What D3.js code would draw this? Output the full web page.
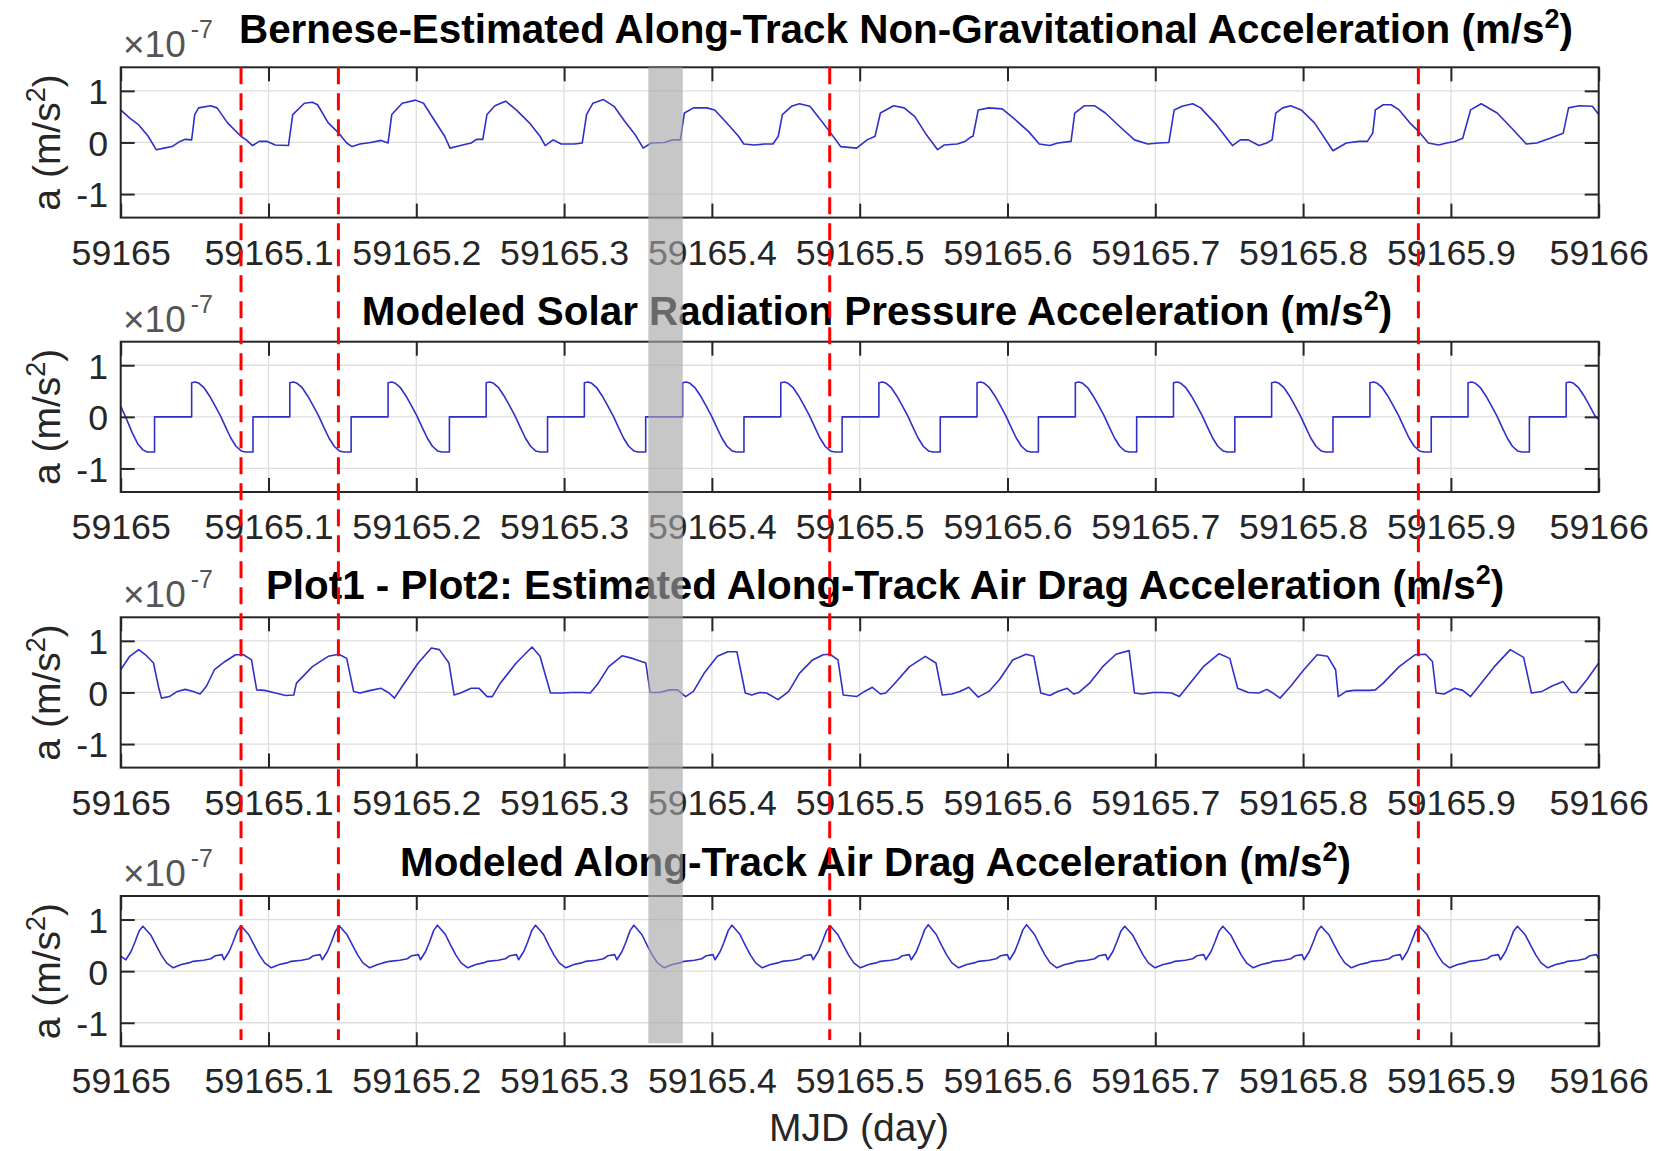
<!DOCTYPE html>
<html>
<head>
<meta charset="utf-8">
<script src="https://cdn.jsdelivr.net/npm/d3@7"></script>
<style>
  html, body { margin: 0; padding: 0; background: #ffffff; }
  svg { display: block; }
</style>
</head>
<body>
<svg id="fig" width="1660" height="1151"></svg>
<script>
// ---- data (time = days after MJD 59165, acceleration in 1e-7 m/s^2) ----
const MJD0 = 59165;
const xTicks = [0, 0.1, 0.2, 0.3, 0.4, 0.5, 0.6, 0.7, 0.8, 0.9, 1.0];
const xTickLabels = ["59165", "59165.1", "59165.2", "59165.3", "59165.4", "59165.5",
                     "59165.6", "59165.7", "59165.8", "59165.9", "59166"];
const yTicks = [-1, 0, 1];
const yTickLabels = ["-1", "0", "1"];

const panelTitles = [
  "Bernese-Estimated Along-Track Non-Gravitational Acceleration (m/s",
  "Modeled Solar Radiation Pressure Acceleration (m/s",
  "Plot1 - Plot2: Estimated Along-Track Air Drag Acceleration (m/s",
  "Modeled Along-Track Air Drag Acceleration (m/s"
];

// epochs marked with red dashed lines, and the shaded interval
const markedEpochs = [0.0814, 0.1473, 0.4797, 0.8780];
const shadedSpan = [0.3570, 0.3803];

// Bernese-estimated along-track non-gravitational acceleration
const bernese = [
  [0,0.63],[0.0061,0.47],[0.0122,0.34],[0.0186,0.12],[0.0240,-0.14],[0.0294,-0.11],[0.0347,-0.08],[0.0401,0.02],[0.0437,0.06],[0.0480,0.05],
  [0.0501,0.54],[0.0527,0.67],[0.0609,0.71],[0.0652,0.67],[0.0723,0.38],[0.0813,0.12],[0.0849,0.05],[0.0892,-0.06],[0.0938,0.02],[0.0992,0.02],[0.1046,-0.05],[0.1135,-0.06],
  [0.1164,0.54],[0.1243,0.76],[0.1297,0.78],[0.1332,0.73],[0.1404,0.38],[0.1476,0.18],[0.1529,-0.01],[0.1565,-0.08],[0.1619,-0.03],[0.1691,0],[0.1762,0.04],[0.1809,-0.01],
  [0.1834,0.54],[0.1905,0.76],[0.1995,0.82],[0.2049,0.76],[0.2120,0.44],[0.2192,0.12],[0.2228,-0.11],[0.2299,-0.06],[0.2371,-0.01],[0.2407,0.06],[0.2450,0.06],
  [0.2478,0.54],[0.2532,0.71],[0.2604,0.80],[0.2676,0.63],[0.2765,0.38],[0.2837,0.12],[0.2872,-0.06],[0.2926,0.05],[0.2980,-0.03],[0.3070,-0.03],[0.3123,-0.01],
  [0.3152,0.54],[0.3195,0.76],[0.3266,0.83],[0.3338,0.70],[0.3410,0.41],[0.3481,0.15],[0.3535,-0.11],[0.3589,-0.01],[0.3678,0],[0.3732,0.05],[0.3786,0.05],
  [0.3814,0.57],[0.3875,0.67],[0.3965,0.67],[0.4019,0.63],[0.4090,0.41],[0.4180,0.12],[0.4216,-0.03],[0.4287,-0.05],[0.4359,-0.03],[0.4413,-0.03],[0.4449,0.12],
  [0.4477,0.54],[0.4538,0.70],[0.4592,0.75],[0.4663,0.70],[0.4735,0.44],[0.4799,0.20],[0.4871,-0.08],[0.4979,-0.11],[0.5050,0.05],[0.5104,0.12],
  [0.5140,0.57],[0.5229,0.71],[0.5301,0.67],[0.5373,0.50],[0.5444,0.18],[0.5527,-0.14],[0.5570,-0.05],[0.5659,-0.03],[0.5713,0.02],[0.5749,0.10],[0.5767,0.12],
  [0.5802,0.63],[0.5874,0.67],[0.5964,0.65],[0.6053,0.44],[0.6143,0.21],[0.6215,-0.03],[0.6286,-0.06],[0.6340,-0.01],[0.6430,0.02],
  [0.6455,0.57],[0.6519,0.71],[0.6591,0.71],[0.6662,0.57],[0.6770,0.28],[0.6859,0.05],[0.6949,-0.03],[0.7021,-0.01],[0.7092,0],
  [0.7128,0.63],[0.7181,0.70],[0.7253,0.75],[0.7307,0.67],[0.7414,0.34],[0.7522,-0.06],[0.7575,0.05],[0.7629,0.05],[0.7701,-0.06],[0.7754,-0.01],[0.7790,0.05],
  [0.7815,0.57],[0.7862,0.67],[0.7916,0.71],[0.7987,0.63],[0.8077,0.38],[0.8202,-0.16],[0.8292,-0.01],[0.8381,0.02],[0.8435,0.02],[0.8471,0.18],
  [0.8489,0.63],[0.8542,0.73],[0.8596,0.73],[0.8650,0.63],[0.8722,0.38],[0.8783,0.21],[0.8847,-0.01],[0.8918,-0.05],[0.8972,-0.01],[0.9026,0.02],[0.9080,0.08],
  [0.9133,0.63],[0.9205,0.75],[0.9313,0.57],[0.9420,0.25],[0.9510,-0.03],[0.9581,-0.01],[0.9671,0.08],[0.9760,0.18],
  [0.9796,0.67],[0.9868,0.71],[0.9957,0.70],[1.0,0.54]
];

// modeled solar radiation pressure acceleration (zero while in eclipse)
const srp = [
  [0,0.21],[0.0040,-0.05],[0.0080,-0.32],[0.0115,-0.52],[0.0150,-0.64],[0.0180,-0.68],[0.0229,-0.68],[0.0229,0],
  [0.0480,0],[0.0480,0.66],[0.0505,0.675],[0.0530,0.65],[0.0565,0.56],[0.0600,0.41],[0.0635,0.23],[0.0675,0.02],[0.0710,-0.2],[0.0745,-0.41],[0.0780,-0.57],[0.0815,-0.66],[0.0845,-0.68],[0.0895,-0.68],[0.0895,0],
  [0.1144,0],[0.1144,0.66],[0.1169,0.675],[0.1194,0.65],[0.1229,0.56],[0.1264,0.41],[0.1299,0.23],[0.1339,0.02],[0.1374,-0.2],[0.1409,-0.41],[0.1444,-0.57],[0.1479,-0.66],[0.1509,-0.68],[0.1559,-0.68],[0.1559,0],
  [0.1809,0],[0.1809,0.66],[0.1834,0.675],[0.1859,0.65],[0.1894,0.56],[0.1929,0.41],[0.1964,0.23],[0.2004,0.02],[0.2039,-0.2],[0.2074,-0.41],[0.2109,-0.57],[0.2144,-0.66],[0.2174,-0.68],[0.2224,-0.68],[0.2224,0],
  [0.2473,0],[0.2473,0.66],[0.2498,0.675],[0.2523,0.65],[0.2558,0.56],[0.2593,0.41],[0.2628,0.23],[0.2668,0.02],[0.2703,-0.2],[0.2738,-0.41],[0.2773,-0.57],[0.2808,-0.66],[0.2838,-0.68],[0.2888,-0.68],[0.2888,0],
  [0.3137,0],[0.3137,0.66],[0.3162,0.675],[0.3187,0.65],[0.3222,0.56],[0.3257,0.41],[0.3292,0.23],[0.3332,0.02],[0.3367,-0.2],[0.3402,-0.41],[0.3437,-0.57],[0.3472,-0.66],[0.3502,-0.68],[0.3552,-0.68],[0.3552,0],
  [0.3802,0],[0.3802,0.66],[0.3827,0.675],[0.3852,0.65],[0.3887,0.56],[0.3922,0.41],[0.3957,0.23],[0.3997,0.02],[0.4032,-0.2],[0.4067,-0.41],[0.4102,-0.57],[0.4137,-0.66],[0.4167,-0.68],[0.4217,-0.68],[0.4217,0],
  [0.4466,0],[0.4466,0.66],[0.4491,0.675],[0.4516,0.65],[0.4551,0.56],[0.4586,0.41],[0.4621,0.23],[0.4661,0.02],[0.4696,-0.2],[0.4731,-0.41],[0.4766,-0.57],[0.4801,-0.66],[0.4831,-0.68],[0.4881,-0.68],[0.4881,0],
  [0.5130,0],[0.5130,0.66],[0.5155,0.675],[0.5180,0.65],[0.5215,0.56],[0.5250,0.41],[0.5285,0.23],[0.5325,0.02],[0.5360,-0.2],[0.5395,-0.41],[0.5430,-0.57],[0.5465,-0.66],[0.5495,-0.68],[0.5545,-0.68],[0.5545,0],
  [0.5794,0],[0.5794,0.66],[0.5819,0.675],[0.5844,0.65],[0.5879,0.56],[0.5914,0.41],[0.5949,0.23],[0.5989,0.02],[0.6024,-0.2],[0.6059,-0.41],[0.6094,-0.57],[0.6129,-0.66],[0.6159,-0.68],[0.6209,-0.68],[0.6209,0],
  [0.6459,0],[0.6459,0.66],[0.6484,0.675],[0.6509,0.65],[0.6544,0.56],[0.6579,0.41],[0.6614,0.23],[0.6654,0.02],[0.6689,-0.2],[0.6724,-0.41],[0.6759,-0.57],[0.6794,-0.66],[0.6824,-0.68],[0.6874,-0.68],[0.6874,0],
  [0.7123,0],[0.7123,0.66],[0.7148,0.675],[0.7173,0.65],[0.7208,0.56],[0.7243,0.41],[0.7278,0.23],[0.7318,0.02],[0.7353,-0.2],[0.7388,-0.41],[0.7423,-0.57],[0.7458,-0.66],[0.7488,-0.68],[0.7538,-0.68],[0.7538,0],
  [0.7787,0],[0.7787,0.66],[0.7812,0.675],[0.7837,0.65],[0.7872,0.56],[0.7907,0.41],[0.7942,0.23],[0.7982,0.02],[0.8017,-0.2],[0.8052,-0.41],[0.8087,-0.57],[0.8122,-0.66],[0.8152,-0.68],[0.8202,-0.68],[0.8202,0],
  [0.8452,0],[0.8452,0.66],[0.8477,0.675],[0.8502,0.65],[0.8537,0.56],[0.8572,0.41],[0.8607,0.23],[0.8647,0.02],[0.8682,-0.2],[0.8717,-0.41],[0.8752,-0.57],[0.8787,-0.66],[0.8817,-0.68],[0.8867,-0.68],[0.8867,0],
  [0.9116,0],[0.9116,0.66],[0.9141,0.675],[0.9166,0.65],[0.9201,0.56],[0.9236,0.41],[0.9271,0.23],[0.9311,0.02],[0.9346,-0.2],[0.9381,-0.41],[0.9416,-0.57],[0.9451,-0.66],[0.9481,-0.68],[0.9531,-0.68],[0.9531,0],
  [0.9780,0],[0.9780,0.66],[0.9805,0.675],[0.9830,0.65],[0.9865,0.56],[0.9900,0.41],[0.9935,0.23],[0.9975,0.02],[1.0,-0.05]
];

// estimated air drag: Bernese estimate minus modeled SRP
const dragDiff = [
  [0,0.44],[0.0061,0.70],[0.0122,0.83],[0.0168,0.73],[0.0222,0.57],[0.0258,0.08],[0.0276,-0.11],[0.0330,-0.08],[0.0383,0.02],[0.0437,0.06],[0.0491,0.02],[0.0537,-0.03],
  [0.0580,0.12],[0.0634,0.44],[0.0706,0.60],[0.0777,0.73],[0.0831,0.73],[0.0885,0.63],[0.0920,0.05],[0.0974,0.04],[0.1046,-0.01],[0.1117,-0.06],[0.1171,-0.05],
  [0.1189,0.18],[0.1297,0.50],[0.1404,0.70],[0.1476,0.74],[0.1529,0.66],[0.1576,0.02],[0.1619,-0.01],[0.1691,0.04],[0.1762,0.08],[0.1816,-0.01],[0.1852,-0.11],
  [0.1905,0.12],[0.2013,0.57],[0.2102,0.86],[0.2156,0.83],[0.2221,0.57],[0.2256,-0.05],[0.2299,-0.01],[0.2371,0.08],[0.2425,0.08],[0.2479,-0.08],[0.2514,-0.08],
  [0.2568,0.18],[0.2676,0.57],[0.2783,0.88],[0.2837,0.70],[0.2908,-0.01],[0.2980,-0.01],[0.3052,0],[0.3123,0],[0.3177,-0.01],
  [0.3231,0.18],[0.3302,0.50],[0.3392,0.71],[0.3463,0.66],[0.3553,0.57],[0.3582,0],[0.3643,0],[0.3714,0.05],[0.3768,0.05],[0.3822,-0.08],[0.3875,0.02],
  [0.3947,0.37],[0.4037,0.70],[0.4108,0.79],[0.4169,0.79],[0.4226,-0.01],[0.4269,-0.05],[0.4323,0],[0.4370,-0.01],[0.4448,-0.14],[0.4520,0.02],
  [0.4592,0.37],[0.4681,0.63],[0.4753,0.73],[0.4799,0.74],[0.4853,0.63],[0.4889,-0.05],[0.4979,-0.08],[0.5032,0.02],[0.5086,0.10],[0.5140,-0.03],[0.5176,-0.01],
  [0.5229,0.15],[0.5337,0.50],[0.5444,0.70],[0.5516,0.57],[0.5559,-0.05],[0.5623,-0.03],[0.5677,0.02],[0.5738,0.10],[0.5802,-0.09],[0.5874,0.02],
  [0.5946,0.25],[0.6035,0.63],[0.6125,0.74],[0.6178,0.70],[0.6225,-0.01],[0.6286,-0.06],[0.6340,0.02],[0.6404,0.08],[0.6447,-0.03],[0.6483,0],
  [0.6555,0.18],[0.6644,0.50],[0.6734,0.74],[0.6823,0.81],[0.6859,-0.01],[0.6913,-0.03],[0.6984,0],[0.7056,0],[0.7110,-0.01],[0.7163,-0.08],
  [0.7235,0.18],[0.7325,0.50],[0.7432,0.75],[0.7504,0.66],[0.7557,0.08],[0.7629,0],[0.7701,-0.01],[0.7754,0.06],[0.7790,0],[0.7844,-0.11],
  [0.7916,0.12],[0.8005,0.44],[0.8095,0.73],[0.8166,0.70],[0.8220,0.44],[0.8238,-0.08],[0.8292,0.02],[0.8345,0.04],[0.8399,0.04],[0.8453,0.04],[0.8489,0.05],
  [0.8542,0.18],[0.8650,0.50],[0.8757,0.73],[0.8829,0.74],[0.8875,0.60],[0.8900,-0.01],[0.8954,-0.03],[0.9026,0.08],[0.9080,0.04],[0.9133,-0.08],
  [0.9205,0.18],[0.9294,0.50],[0.9402,0.83],[0.9492,0.68],[0.9545,-0.01],[0.9617,0.02],[0.9688,0.13],[0.9760,0.21],[0.9814,0],[0.9850,0],
  [0.9921,0.25],[1.0,0.57]
];

// modeled along-track air drag acceleration
const dragModel = [
  [0,0.29],
  [0.0035,0.22],[0.0070,0.38],[0.0096,0.56],[0.0125,0.78],[0.0150,0.87],[0.0204,0.70],[0.0240,0.50],[0.0275,0.31],[0.0310,0.16],[0.0355,0.065],[0.0410,0.13],[0.0460,0.16],[0.0490,0.19],[0.0560,0.21],[0.0610,0.24],[0.0640,0.30],[0.0685,0.32],
  [0.0699,0.22],[0.0734,0.38],[0.0760,0.56],[0.0789,0.78],[0.0814,0.88],[0.0868,0.70],[0.0904,0.50],[0.0939,0.31],[0.0974,0.16],[0.1019,0.065],[0.1074,0.13],[0.1124,0.16],[0.1154,0.19],[0.1224,0.21],[0.1274,0.24],[0.1304,0.30],[0.1349,0.32],
  [0.1364,0.22],[0.1399,0.38],[0.1425,0.56],[0.1454,0.78],[0.1479,0.88],[0.1533,0.70],[0.1569,0.50],[0.1604,0.31],[0.1639,0.16],[0.1684,0.065],[0.1739,0.13],[0.1774,0.16],[0.1819,0.19],[0.1889,0.21],[0.1939,0.24],[0.1969,0.30],[0.2014,0.32],
  [0.2028,0.22],[0.2063,0.38],[0.2089,0.56],[0.2118,0.79],[0.2143,0.89],[0.2197,0.71],[0.2233,0.50],[0.2268,0.31],[0.2303,0.16],[0.2348,0.065],[0.2403,0.13],[0.2453,0.16],[0.2483,0.19],[0.2553,0.21],[0.2603,0.24],[0.2633,0.30],[0.2678,0.32],
  [0.2692,0.22],[0.2727,0.38],[0.2753,0.56],[0.2782,0.79],[0.2807,0.89],[0.2861,0.71],[0.2897,0.50],[0.2932,0.31],[0.2967,0.16],[0.3012,0.065],[0.3067,0.13],[0.3117,0.16],[0.3147,0.19],[0.3217,0.21],[0.3267,0.24],[0.3297,0.30],[0.3342,0.32],
  [0.3357,0.22],[0.3392,0.38],[0.3418,0.56],[0.3447,0.79],[0.3472,0.89],[0.3526,0.71],[0.3562,0.50],[0.3597,0.31],[0.3632,0.16],[0.3677,0.065],[0.3732,0.13],[0.3782,0.16],[0.3812,0.19],[0.3882,0.21],[0.3932,0.24],[0.3962,0.30],[0.4007,0.32],
  [0.4021,0.22],[0.4056,0.38],[0.4082,0.56],[0.4111,0.79],[0.4136,0.89],[0.4190,0.71],[0.4226,0.50],[0.4261,0.31],[0.4296,0.16],[0.4341,0.065],[0.4396,0.13],[0.4446,0.16],[0.4476,0.19],[0.4546,0.21],[0.4596,0.24],[0.4626,0.30],[0.4671,0.32],
  [0.4685,0.22],[0.4720,0.38],[0.4746,0.56],[0.4775,0.78],[0.4800,0.88],[0.4854,0.70],[0.4890,0.50],[0.4925,0.31],[0.4960,0.16],[0.5005,0.065],[0.5060,0.13],[0.5110,0.16],[0.5140,0.19],[0.5210,0.21],[0.5260,0.24],[0.5290,0.30],[0.5335,0.32],
  [0.5349,0.22],[0.5384,0.38],[0.5410,0.57],[0.5439,0.80],[0.5464,0.90],[0.5518,0.71],[0.5554,0.50],[0.5589,0.31],[0.5624,0.16],[0.5669,0.065],[0.5724,0.13],[0.5774,0.16],[0.5804,0.19],[0.5874,0.21],[0.5924,0.24],[0.5954,0.30],[0.5999,0.32],
  [0.6014,0.22],[0.6049,0.38],[0.6075,0.57],[0.6104,0.80],[0.6129,0.90],[0.6183,0.71],[0.6219,0.50],[0.6254,0.31],[0.6289,0.16],[0.6334,0.065],[0.6389,0.13],[0.6439,0.16],[0.6469,0.19],[0.6539,0.21],[0.6589,0.24],[0.6619,0.30],[0.6664,0.32],
  [0.6678,0.22],[0.6713,0.38],[0.6739,0.56],[0.6768,0.78],[0.6793,0.87],[0.6847,0.70],[0.6883,0.50],[0.6918,0.31],[0.6953,0.16],[0.6998,0.065],[0.7053,0.13],[0.7103,0.16],[0.7133,0.19],[0.7203,0.21],[0.7253,0.24],[0.7283,0.30],[0.7328,0.32],
  [0.7342,0.22],[0.7377,0.38],[0.7403,0.56],[0.7432,0.78],[0.7457,0.87],[0.7511,0.70],[0.7547,0.50],[0.7582,0.31],[0.7617,0.16],[0.7662,0.065],[0.7717,0.13],[0.7767,0.16],[0.7797,0.19],[0.7867,0.21],[0.7917,0.24],[0.7947,0.30],[0.7992,0.32],
  [0.8007,0.22],[0.8042,0.38],[0.8068,0.56],[0.8097,0.78],[0.8122,0.87],[0.8176,0.70],[0.8212,0.50],[0.8247,0.31],[0.8282,0.16],[0.8327,0.065],[0.8382,0.13],[0.8432,0.16],[0.8462,0.19],[0.8532,0.21],[0.8582,0.24],[0.8612,0.30],[0.8657,0.32],
  [0.8671,0.22],[0.8706,0.38],[0.8732,0.56],[0.8761,0.78],[0.8786,0.87],[0.8840,0.70],[0.8876,0.50],[0.8911,0.31],[0.8946,0.16],[0.8991,0.065],[0.9046,0.13],[0.9096,0.16],[0.9126,0.19],[0.9196,0.21],[0.9246,0.24],[0.9276,0.30],[0.9321,0.32],
  [0.9335,0.22],[0.9370,0.38],[0.9396,0.56],[0.9425,0.78],[0.9450,0.87],[0.9504,0.70],[0.9540,0.50],[0.9575,0.31],[0.9610,0.16],[0.9655,0.065],[0.9710,0.13],[0.9760,0.16],[0.9790,0.19],[0.9860,0.21],[0.9910,0.24],[0.9940,0.30],[0.9985,0.32],
  [1.0,0.24]
];

// ---- layout ----
const FONT = "'Liberation Sans', Arial, Helvetica, sans-serif";
const INK = "#262626";
const svg = d3.select("#fig");

const plotLeft = 120.7, plotRight = 1598.7, panelH = 150.3;
const yLim = [-1.456, 1.456];
const x = d3.scaleLinear().domain([0, 1]).range([plotLeft, plotRight]);

const panels = [
  { top: 67.3,  series: bernese,   title: panelTitles[0], titleX: 906,   titleY: 43 },
  { top: 341.7, series: srp,       title: panelTitles[1], titleX: 877,   titleY: 324.5 },
  { top: 617.3, series: dragDiff,  title: panelTitles[2], titleX: 885,   titleY: 599 },
  { top: 896,   series: dragModel, title: panelTitles[3], titleX: 875.5, titleY: 876 }
];

panels.forEach(p => {
  const bottom = p.top + panelH;
  const y = d3.scaleLinear().domain(yLim).range([bottom, p.top]);
  const g = svg.append("g");

  // grid
  g.append("g").selectAll("line").data(xTicks).join("line")
    .attr("x1", d => x(d)).attr("x2", d => x(d))
    .attr("y1", p.top).attr("y2", bottom)
    .attr("stroke", "#dedede").attr("stroke-width", 1.3);
  g.append("g").selectAll("line").data(yTicks).join("line")
    .attr("x1", plotLeft).attr("x2", plotRight)
    .attr("y1", d => y(d)).attr("y2", d => y(d))
    .attr("stroke", "#dedede").attr("stroke-width", 1.3);

  // series
  const line = d3.line().x(d => x(d[0])).y(d => y(d[1]));
  g.append("path").datum(p.series)
    .attr("d", line)
    .attr("fill", "none")
    .attr("stroke", "#3030c8")
    .attr("stroke-width", 1.6)
    .attr("stroke-linejoin", "round");

  // axes with inward ticks on all four sides
  const styleAxis = sel => {
    sel.select(".domain").remove();
    sel.selectAll(".tick line").attr("stroke", INK).attr("stroke-width", 2);
    sel.selectAll(".tick text")
      .attr("fill", INK)
      .style("font-family", FONT)
      .style("font-size", "35.7px");
  };

  g.append("g").attr("transform", `translate(0,${bottom})`)
    .call(d3.axisBottom(x).tickValues(xTicks)
      .tickFormat((d, i) => xTickLabels[i])
      .tickSizeInner(-14).tickSizeOuter(0).tickPadding(21.7))
    .call(styleAxis);
  g.append("g").attr("transform", `translate(0,${p.top})`)
    .call(d3.axisTop(x).tickValues(xTicks).tickFormat("")
      .tickSizeInner(-14).tickSizeOuter(0))
    .call(styleAxis);
  g.append("g").attr("transform", `translate(${plotLeft},0)`)
    .call(d3.axisLeft(y).tickValues(yTicks)
      .tickFormat((d, i) => yTickLabels[i])
      .tickSizeInner(-14).tickSizeOuter(0).tickPadding(12.7))
    .call(styleAxis)
    .call(s => s.selectAll(".tick text").attr("dy", "0.36em"));
  g.append("g").attr("transform", `translate(${plotRight},0)`)
    .call(d3.axisRight(y).tickValues(yTicks).tickFormat("")
      .tickSizeInner(-14).tickSizeOuter(0))
    .call(styleAxis);

  // box
  g.append("rect")
    .attr("x", plotLeft).attr("y", p.top)
    .attr("width", plotRight - plotLeft).attr("height", panelH)
    .attr("fill", "none").attr("stroke", INK).attr("stroke-width", 2);

  // exponent label
  const ex = g.append("text")
    .attr("x", 123).attr("y", p.top - 10)
    .attr("fill", "#555555")
    .style("font-family", FONT);
  ex.append("tspan").text("\u00d710").style("font-size", "37px");
  ex.append("tspan").text("-7").attr("dx", 5).attr("dy", -19).style("font-size", "25px");

  // y label
  const yl = g.append("text")
    .attr("transform", `translate(60,${(p.top + bottom) / 2}) rotate(-90)`)
    .attr("text-anchor", "middle")
    .attr("fill", INK)
    .style("font-family", FONT)
    .style("font-size", "39px");
  yl.append("tspan").text("a (m/s");
  yl.append("tspan").text("2").attr("dy", -15).style("font-size", "27px");
  yl.append("tspan").text(")").attr("dy", 15);

  // title
  const tt = g.append("text")
    .attr("x", p.titleX).attr("y", p.titleY)
    .attr("text-anchor", "middle")
    .attr("fill", "#000")
    .style("font-family", FONT)
    .style("font-weight", "bold")
    .style("font-size", "40.4px");
  tt.append("tspan").text(p.title);
  tt.append("tspan").text("2").attr("dy", -15).style("font-size", "27px");
  tt.append("tspan").text(")").attr("dy", 15);
});

// x axis label
svg.append("text")
  .attr("x", 859).attr("y", 1141)
  .attr("text-anchor", "middle")
  .attr("fill", INK)
  .style("font-family", FONT)
  .style("font-size", "39px")
  .text("MJD (day)");

// shaded interval across all panels
const spanTop = panels[0].top, spanBottom = 1043.3;
svg.append("rect")
  .attr("x", x(shadedSpan[0])).attr("y", spanTop)
  .attr("width", x(shadedSpan[1]) - x(shadedSpan[0]))
  .attr("height", spanBottom - spanTop)
  .attr("fill", "rgb(167,167,167)")
  .attr("fill-opacity", 0.63);

// red dashed epoch markers
svg.append("g").selectAll("line").data(markedEpochs).join("line")
  .attr("x1", d => x(d)).attr("x2", d => x(d))
  .attr("y1", spanTop).attr("y2", 1040)
  .attr("stroke", "#ff0000")
  .attr("stroke-width", 3)
  .attr("stroke-dasharray", "17,9");
</script>
</body>
</html>
